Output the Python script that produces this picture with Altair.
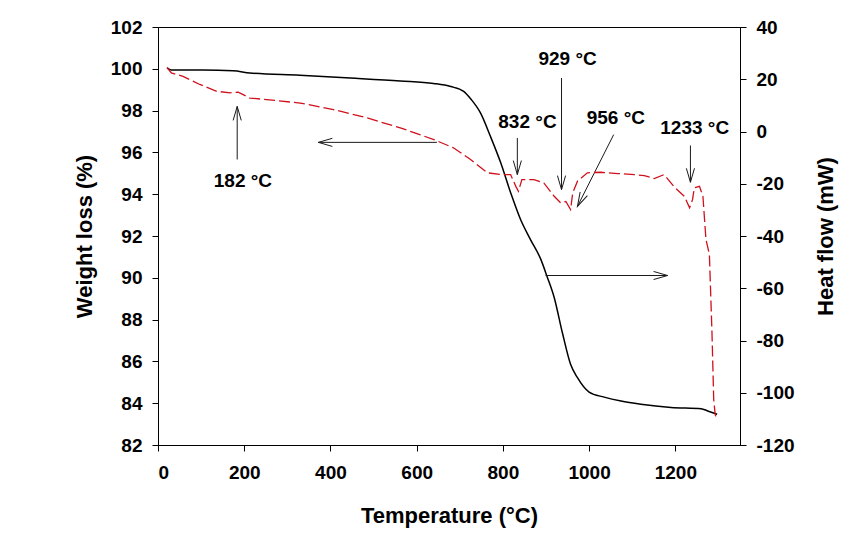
import altair as alt
import pandas as pd

# ---- black curve (left axis, weight loss %) ----
temp_w = [21, 31, 104, 174, 213, 329, 446, 562, 639, 679, 709, 727, 748, 771, 795, 818,
          841, 864, 888, 902, 919, 938, 957, 973, 1000, 1035, 1074, 1120, 1190, 1260, 1275, 1297]
weight = [100.04, 99.94, 99.94, 99.91, 99.80, 99.69, 99.56, 99.42, 99.30, 99.15, 98.92, 98.52,
          97.89, 96.77, 95.50, 94.07, 92.79, 91.83, 90.88, 90.09, 89.06, 87.37, 85.86, 85.22,
          84.53, 84.29, 84.10, 83.95, 83.80, 83.74, 83.63, 83.47]

# ---- red dashed curve (right axis, heat flow mW) ----
temp_h = [21, 31, 58, 97, 136, 167, 186, 213, 252, 330, 407, 485, 562, 640, 686, 725, 764,
          795, 818, 830, 836, 844, 872, 895, 919, 934, 946, 957, 962, 973, 996, 1027, 1066,
          1105, 1128, 1151, 1174, 1198, 1221, 1233, 1240, 1244, 1256, 1264, 1271, 1279, 1285,
          1289, 1292, 1295]
heat = [24.5, 22.4, 21.1, 18.0, 15.4, 14.8, 15.1, 12.8, 12.2, 10.9, 8.4, 5.2, 1.4, -3.1, -6.3,
        -10.7, -15.8, -16.5, -16.5, -21.0, -22.9, -18.4, -18.4, -19.7, -24.8, -27.3, -26.8,
        -29.9, -23.5, -19.0, -15.8, -15.6, -16.1, -16.5, -16.9, -18.0, -16.5, -21.3, -24.8,
        -29.2, -26.0, -21.6, -21.0, -24.8, -41.3, -47.1, -77.0, -102.5, -107.6, -110.2]

# ---- annotations (in temperature / weight-% units) ----
label_text = ["182 °C", "832 °C", "929 °C", "956 °C", "1233 °C"]
label_x = [197, 857, 950, 1062, 1245]
label_y = [94.62, 97.46, 100.47, 97.65, 97.17]

arrow_x0 = [183.7, 647, 833.5, 936, 1057, 1235, 899]
arrow_y0 = [95.66, 96.48, 96.69, 99.56, 96.85, 96.33, 90.11]
arrow_x1 = [183.7, 372, 833.5, 936, 973, 1235, 1182]
arrow_y1 = [98.20, 96.48, 94.94, 94.22, 93.42, 94.57, 90.11]
arrow_angle = [0, 270, 180, 180, 206.7, 180, 90]

FONT = "Liberation Sans"

df_w = pd.DataFrame({"t": temp_w, "w": weight})
df_h = pd.DataFrame({"t": temp_h, "h": heat})
df_lab = pd.DataFrame({"x": label_x, "y": label_y, "text": label_text})
df_arr = pd.DataFrame({"x0": arrow_x0, "y0": arrow_y0, "x1": arrow_x1, "y1": arrow_y1,
                       "ang": arrow_angle})

x_scale = alt.Scale(domain=[0, 1350], nice=False, zero=False)
yl_scale = alt.Scale(domain=[82, 102], nice=False, zero=False)
yr_scale = alt.Scale(domain=[-120, 40], nice=False, zero=False)

x_enc = alt.X("t:Q", scale=x_scale,
              axis=alt.Axis(values=list(range(0, 1201, 200)), title="Temperature (°C)",
                            labelExpr="'' + datum.value",
                            labelPadding=12, titleBaseline="alphabetic", titleY=77))

black = alt.Chart(df_w).mark_line(color="black", strokeWidth=1.5, interpolate="monotone").encode(
    x=x_enc,
    y=alt.Y("w:Q", scale=yl_scale,
            axis=alt.Axis(values=list(range(82, 103, 2)), title="Weight loss (%)",
                          labelExpr="'' + datum.value",
                          titleAngle=270, titleX=-74, titleY=209,
                          titleBaseline="middle", titleAlign="center", labelPadding=10)),
)

shafts = alt.Chart(df_arr).mark_rule(color="#1a1a1a", strokeWidth=1).encode(
    x=alt.X("x0:Q", scale=x_scale), x2="x1:Q",
    y=alt.Y("y0:Q", scale=yl_scale), y2="y1:Q",
)

heads = alt.Chart(df_arr).mark_point(
    shape="M-0.29,1L0,0L0.29,1", filled=False, color="#1a1a1a", strokeWidth=1,
    size=784, opacity=1,
).encode(
    x=alt.X("x1:Q", scale=x_scale),
    y=alt.Y("y1:Q", scale=yl_scale),
    angle=alt.Angle("ang:Q", scale=None),
)

labels = alt.Chart(df_lab).mark_text(
    font=FONT, fontSize=19, fontWeight="bold", color="black",
    align="center", baseline="middle",
).encode(
    x=alt.X("x:Q", scale=x_scale),
    y=alt.Y("y:Q", scale=yl_scale),
    text="text:N",
)

red = alt.Chart(df_h).mark_line(color="#d0101c", strokeWidth=1.3, strokeDash=[11, 4]).encode(
    x=alt.X("t:Q", scale=x_scale),
    y=alt.Y("h:Q", scale=yr_scale,
            axis=alt.Axis(orient="right", values=list(range(-120, 41, 20)),
                          labelExpr="'' + datum.value",
                          title="Heat flow (mW)", titleAngle=270, titleX=85, titleY=209,
                          titleBaseline="middle", titleAlign="center", labelPadding=10)),
)

left_layer = alt.layer(black, shafts, heads, labels)

chart = alt.layer(left_layer, red).resolve_scale(y="independent").properties(
    width=582, height=418,
    padding={"left": 150, "top": 19, "right": 100, "bottom": 100},
    autosize=alt.AutoSizeParams(type="none"),
).configure_view(
    stroke="black", strokeWidth=1,
).configure_axis(
    grid=False,
    domainColor="black", domainWidth=1,
    tickColor="black", tickSize=6, tickWidth=1,
    labelFont=FONT, labelFontSize=19, labelFontWeight="bold", labelColor="black",
    titleFont=FONT, titleFontSize=22, titleFontWeight="bold", titleColor="black",
)

chart.save("out.html", embed_options={"renderer": "svg", "actions": False})
